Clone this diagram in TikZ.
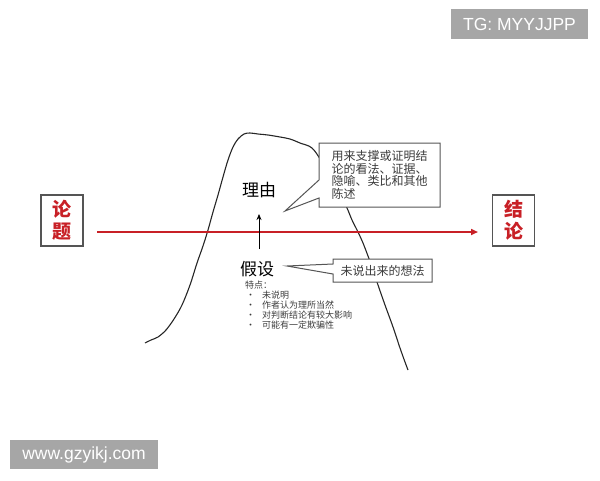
\documentclass[tikz,border=0pt]{standalone}
\usepackage{fontspec}
\setmainfont{Liberation Sans}
\newfontfamily\cjk{Noto Sans CJK SC}
\usetikzlibrary{shapes.callouts,arrows.meta}
\definecolor{darkred}{RGB}{200,32,38}
\definecolor{wmgray}{RGB}{166,166,166}
\definecolor{boxgray}{RGB}{85,85,85}
\definecolor{txtgray}{RGB}{60,60,60}
\tikzset{
  topicbox/.style={draw=boxgray, line width=1.3pt, minimum width=42pt, minimum height=51pt, inner sep=0pt,
    text=darkred, align=center, font=\cjk\bfseries\fontsize{19}{22}\selectfont},
  bigword/.style={inner sep=2pt, font=\cjk\fontsize{17}{20}\selectfont},
  note/.style={rectangle callout, draw=boxgray, line width=1pt, fill=white, inner sep=0pt,
    text=txtgray, align=left},
  mountain/.style={line width=1.1pt, black!85},
  mainarrow/.style={darkred, line width=1.6pt, -{Triangle[length=7pt,width=6pt]}},
  wm/.style={fill=wmgray, text=white, inner sep=0pt, font=\fontsize{17.5}{20}\selectfont}
}
\begin{document}
\begin{tikzpicture}[x=1pt,y=-1pt]
\useasboundingbox (0,0) rectangle (600,480);
% mountain
\draw[mountain] plot[smooth, tension=0.55] coordinates {
 (145,343) (151,340) (158,337) (166,330) (174,319) (182,305) (190,285) (197,263)
 (203,246) (208,230) (213,212) (218,195) (223,177) (228,160) (233,147) (238,139)
 (244,134) (250,133) (258,134) (268,135) (280,137) (290,139) (300,143) (312,148)
 (322,162) (331,178) (340,195) (347,208) (352,220) (358,232) (363,243) (368,256)
 (372,267) (378,285) (385,305) (393,327) (400,348) (405,362) (408,370)};
% topic boxes
\node[topicbox] (lunti) at (62,220.5) {论\\题};
\node[topicbox] (jielun) at (513.5,220.5) {结\\论};
\coordinate (arrS) at (97,232);
\coordinate (arrE) at (478,232);
\draw[mainarrow] (arrS) -- (arrE);
% words
\node[bigword] (liyou) at (259,190) {理由};
\node[bigword] (jiashe) at (257,269) {假设};
\draw[line width=0.8pt, -{Stealth[length=6pt,width=5pt]}, shorten <=10pt, shorten >=14pt]
  (jiashe.north -| liyou.south) -- (liyou.south);
% callouts
\node[note, minimum width=121pt, minimum height=64pt, callout absolute pointer={(285,211)},
  callout pointer width=18pt, font=\cjk\fontsize{12}{12.5}\selectfont] (note1) at (379.5,175)
  {用来支撑或证明结\\论的看法、证据、\\隐喻、类比和其他\\陈述};
\node[note, minimum width=99pt, minimum height=23pt, callout absolute pointer={(287,266)},
  callout pointer width=10pt, font=\cjk\fontsize{12}{14}\selectfont] (note2) at (382.5,270.5)
  {未说出来的想法};
% features list
\node[anchor=north west, inner sep=0pt, align=left, text=txtgray,
  font=\cjk\fontsize{9}{10}\selectfont] (features) at (245,281)
  {特点：\\
   \makebox[17pt][l]{\hspace{1pt}•}未说明\\
   \makebox[17pt][l]{\hspace{1pt}•}作者认为理所当然\\
   \makebox[17pt][l]{\hspace{1pt}•}对判断结论有较大影响\\
   \makebox[17pt][l]{\hspace{1pt}•}可能有一定欺骗性};
% watermarks
\node[wm, minimum width=137pt, minimum height=30pt] (wm1) at (519.5,24) {TG: MYYJJPP};
\node[wm, minimum width=148pt, minimum height=29pt] (wm2) at (84,454.5) {www.gzyikj.com};
\end{tikzpicture}
\end{document}
